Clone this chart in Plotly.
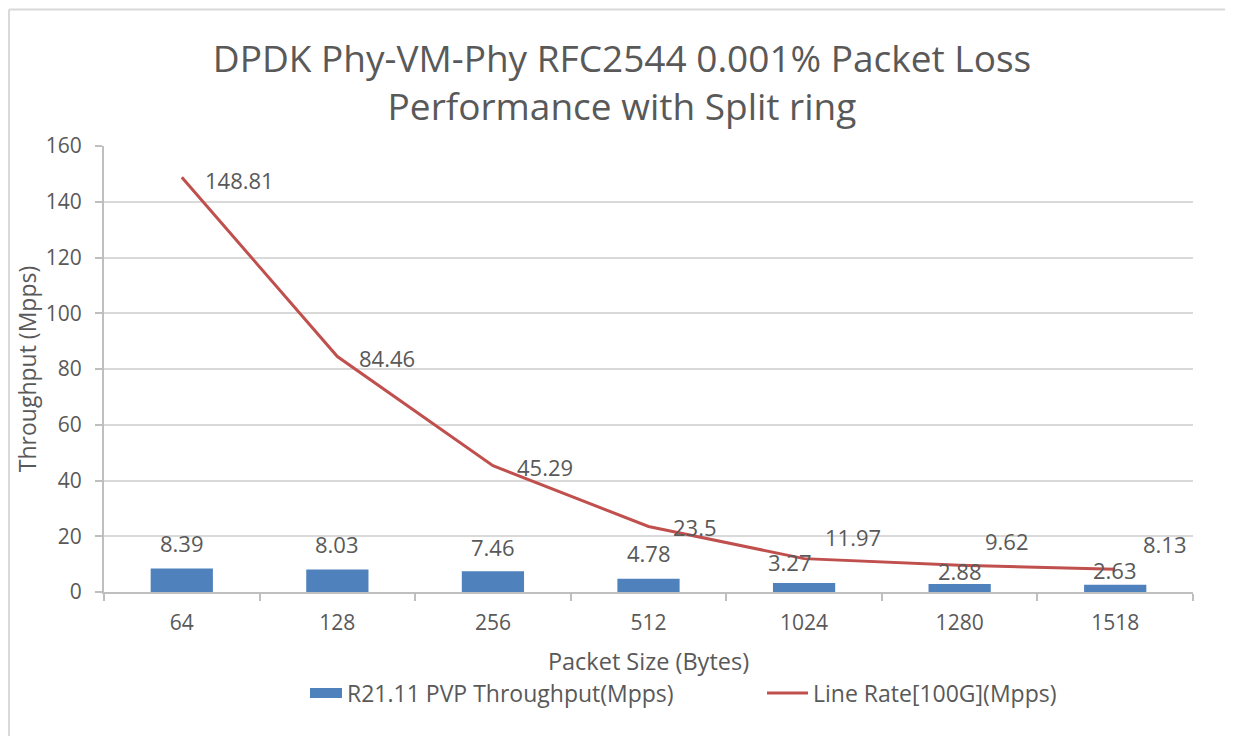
import plotly.graph_objects as go

# ---- data ----
categories = ["64", "128", "256", "512", "1024", "1280", "1518"]
throughput = [8.39, 8.03, 7.46, 4.78, 3.27, 2.88, 2.63]
line_rate = [148.81, 84.46, 45.29, 23.5, 11.97, 9.62, 8.13]
series_names = ["R21.11 PVP Throughput(Mpps)", "Line Rate[100G](Mpps)"]

# ---- style ----
OFF = 8  # page body margin
W, H = 1233 - 2 * OFF, 744 - 2 * OFF
PL, PR, PT, PB = 104, 1193, 146, 592  # plot area in screen px
L, R, T, B = PL - OFF, W - (PR - OFF), PT - OFF, H - (PB - OFF)
BLUE = "#4F81BD"
RED = "#C0504D"
TXT = "#595959"
GRID = "#D9D9D9"
AXIS = "#BFBFBF"
FONT = "Open Sans"

# label pixel offsets (style only)
bar_lbl_dx = [0, 0, 0, 0, -14, 0, 0]
bar_lbl_dy = [26, 26, 24, 26, 21, 13, 15]
line_lbl_dx = [21, 20, 22, 22, 19, 23, 26]
line_lbl_dy = [-3, -1, -1, -1, 22, 24, 25]

fig = go.Figure()
fig.add_trace(go.Bar(x=categories, y=throughput, name=series_names[0],
                     marker=dict(color=BLUE, line=dict(width=0)), width=0.4,
                     showlegend=False))
fig.add_trace(go.Scatter(x=categories, y=line_rate, name=series_names[1], mode="lines",
                         line=dict(color=RED, width=3), showlegend=False))

ann = []
for i, c in enumerate(categories):
    ann.append(dict(x=i, y=throughput[i], text=f"{throughput[i]:g}", showarrow=False,
                    xanchor="center", yanchor="middle", xshift=bar_lbl_dx[i], yshift=bar_lbl_dy[i],
                    font=dict(family=FONT, size=22, color=TXT)))
    ann.append(dict(x=i, y=line_rate[i], text=f"{line_rate[i]:g}", showarrow=False,
                    xanchor="left", yanchor="middle", xshift=line_lbl_dx[i], yshift=line_lbl_dy[i],
                    font=dict(family=FONT, size=22, color=TXT)))

pw, ph = PR - PL, PB - PT
def px(x):
    return (x - PL) / pw
def py(y):
    return (PB - y) / ph

# custom legend + chart border
shapes = [
    dict(type="rect", xref="paper", yref="paper", x0=px(310), x1=px(342), y0=py(698), y1=py(688),
         fillcolor=BLUE, line=dict(width=0)),
    dict(type="line", xref="paper", yref="paper", x0=px(767), x1=px(808), y0=py(693), y1=py(693),
         line=dict(color=RED, width=3)),
    dict(type="line", xref="paper", yref="paper", x0=px(9), x1=px(1240), y0=py(9.5), y1=py(9.5),
         line=dict(color=GRID, width=2)),
    dict(type="line", xref="paper", yref="paper", x0=px(9), x1=px(9), y0=py(9.5), y1=py(760),
         line=dict(color=GRID, width=2)),
]
ann.append(dict(xref="paper", yref="paper", x=px(345), y=py(693), text=series_names[0],
                showarrow=False, xanchor="left", yanchor="middle",
                font=dict(family=FONT, size=23, color=TXT)))
ann.append(dict(xref="paper", yref="paper", x=px(811), y=py(693), text=series_names[1],
                showarrow=False, xanchor="left", yanchor="middle",
                font=dict(family=FONT, size=23, color=TXT)))

fig.update_layout(
    width=W, height=H,
    margin=dict(l=L, r=R, t=T, b=B, autoexpand=False),
    paper_bgcolor="white", plot_bgcolor="white",
    font=dict(family=FONT, color=TXT),
    title=dict(text="DPDK Phy-VM-Phy RFC2544 0.001% Packet Loss<br>Performance with Split ring",
               x=(622 - OFF) / W, xanchor="center", xref="container",
               y=1 - 64 / H, yanchor="top", yref="container",
               font=dict(family=FONT, size=37, color=TXT)),
    shapes=shapes,
    annotations=ann,
)
fig.update_xaxes(type="category", range=[-0.5, 6.5], showline=True, linecolor=AXIS, linewidth=2,
                 ticks="outside", tickson="boundaries", ticklen=7, tickcolor=AXIS, tickwidth=2,
                 tickfont=dict(family=FONT, size=21, color=TXT), ticklabelstandoff=11,
                 title=dict(text="Packet Size (Bytes)", standoff=18,
                            font=dict(family=FONT, size=23.5, color=TXT)),
                 showgrid=False, zeroline=False)
fig.update_yaxes(range=[0, 160], dtick=20, showline=True, linecolor=AXIS, linewidth=2,
                 ticks="outside", ticklen=7, tickcolor=AXIS, tickwidth=2,
                 tickfont=dict(family=FONT, size=21, color=TXT), ticklabelstandoff=9,
                 showgrid=True, gridcolor=GRID, gridwidth=2, zeroline=False,
                 title=dict(text="Throughput (Mpps)", standoff=3,
                            font=dict(family=FONT, size=23, color=TXT)))

fig.write_html("out.html")
